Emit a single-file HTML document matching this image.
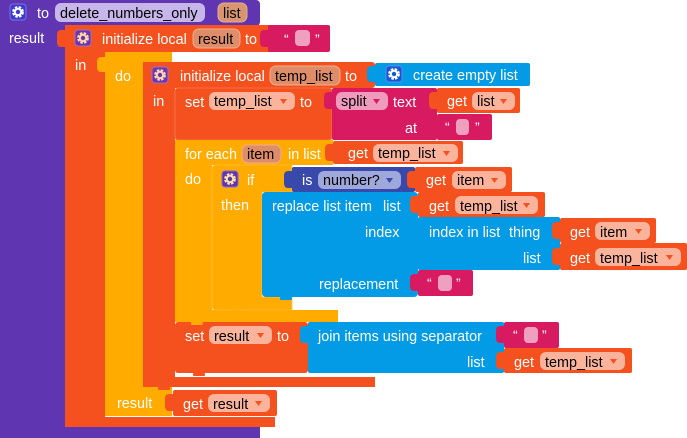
<!DOCTYPE html>
<html><head><meta charset="utf-8">
<style>
html,body{margin:0;padding:0;background:#fff;}
svg{display:block;}
text{font-family:"Liberation Sans",Arial,sans-serif;font-size:14.4px;}
.w{fill:#fff;}
.k{fill:#000;}
.q{fill:#fff;font-size:14px;}
</style></head>
<body>
<svg width="687" height="438" viewBox="0 0 687 438" xmlns="http://www.w3.org/2000/svg">
<defs>
  <g id="gear">
    <circle cx="0" cy="0" r="4.6" fill="none" stroke="currentColor" stroke-width="2.6" stroke-dasharray="2.4 1.3"/>
    <circle cx="0" cy="0" r="3.2" fill="none" stroke="currentColor" stroke-width="2"/>
  </g>
</defs>

<!-- PURPLE procedure -->
<g fill="#5f35b1">
  <rect x="0" y="0" width="260" height="26" rx="4"/>
  <rect x="0" y="0" width="65" height="438"/>
  <rect x="0" y="427" width="260" height="11"/>
</g>
<rect x="10" y="4" width="16" height="16" rx="3" fill="#3e3ad0" stroke="#7d72e6" stroke-width="1"/>
<g transform="translate(18,12)" color="#fff"><use href="#gear"/></g>
<text x="37" y="18" class="w">to</text>
<rect x="55" y="3" width="150" height="19" rx="6" fill="#c6b6ea"/>
<text x="60" y="18" class="k">delete_numbers_only</text>
<rect x="218" y="3" width="29" height="19" rx="6" fill="#d9956f" stroke="#e8b08f" stroke-width="1"/>
<text x="223" y="18" class="k">list</text>
<text x="9" y="43" class="w">result</text>

<!-- ORANGE outer init local result -->
<g fill="#f4511e">
  <rect x="65" y="25" width="210" height="27" rx="3"/>
  <rect x="65" y="25" width="40" height="402"/>
  <rect x="65" y="417" width="210" height="10"/>
  <path d="M65 30 L61 30 Q57 30 57 35 L57 42 Q57 47 61 47 L65 47 Z"/>
</g>
<rect x="75" y="30" width="16" height="16" rx="3" fill="#6e36a8" stroke="#a070c8" stroke-width="1"/>
<g transform="translate(83,38)" color="#ffd7b0"><use href="#gear"/></g>
<text x="102" y="44" class="w">initialize local</text>
<rect x="193" y="29" width="47" height="19" rx="6" fill="#df8d69" stroke="#eeae8e" stroke-width="1"/>
<text x="198" y="44" class="k">result</text>
<text x="245" y="44" class="w">to</text>
<!-- string -->
<g fill="#d81b60">
  <rect x="268" y="25" width="62" height="27" rx="2"/>
  <path d="M268 30 L264 30 Q260 30 260 35 L260 42 Q260 47 264 47 L268 47 Z"/>
</g>
<text x="284" y="44" class="q">“</text>
<rect x="295" y="30" width="15" height="16" rx="4" fill="#f0a0bf"/>
<text x="315" y="44" class="q">”</text>
<text x="75" y="70" class="w">in</text>

<!-- YELLOW do/result -->
<g fill="#ffab00">
  <rect x="105" y="52" width="67" height="10"/>
  <rect x="105" y="52" width="38" height="364"/>
  <rect x="105" y="387" width="67" height="29"/>
  <path d="M105 57 L101 57 Q97 57 97 62 L97 67 Q97 72 101 72 L105 72 Z"/>
</g>
<text x="115" y="81" class="w">do</text>
<text x="117" y="408" class="w">result</text>

<!-- INNER ORANGE init local temp_list -->
<g fill="#f4511e">
  <rect x="143" y="62" width="232" height="26" rx="3"/>
  <rect x="143" y="62" width="32" height="325"/>
  <rect x="143" y="377" width="232" height="10"/>
  <rect x="158" y="387" width="12" height="3" rx="1"/>
</g>
<rect x="152" y="67" width="16" height="16" rx="3" fill="#6e36a8" stroke="#a070c8" stroke-width="1"/>
<g transform="translate(160,75)" color="#ffd7b0"><use href="#gear"/></g>
<text x="180" y="81" class="w">initialize local</text>
<rect x="270" y="66" width="70" height="19" rx="6" fill="#df8d69" stroke="#eeae8e" stroke-width="1"/>
<text x="275" y="81" class="k">temp_list</text>
<text x="345" y="81" class="w">to</text>
<!-- create empty list -->
<g fill="#039be5">
  <rect x="375" y="63" width="155" height="23" rx="2"/>
  <path d="M375 66 L371 66 Q367 66 367 71 L367 77 Q367 82 371 82 L375 82 Z"/>
</g>
<rect x="386" y="66" width="16" height="16" rx="3" fill="#1857d4" stroke="#5a8ff0" stroke-width="1"/>
<g transform="translate(394,74)" color="#fff"><use href="#gear"/></g>
<text x="413" y="80" class="w">create empty list</text>
<text x="153" y="106" class="w">in</text>

<!-- set temp_list -->
<rect x="175" y="88" width="157" height="52" rx="3" fill="#f4511e" stroke="#f77a50" stroke-width="0.8"/>
<text x="185" y="107" class="w">set</text>
<rect x="209" y="92" width="86" height="18" rx="6" fill="#fbb49b"/>
<text x="214" y="106" class="k">temp_list</text>
<polygon points="280,99 287,99 283.5,104" fill="#f4511e"/>
<text x="300" y="107" class="w">to</text>
<!-- split -->
<g fill="#d81b60">
  <rect x="332" y="88" width="105" height="52" rx="2"/>
  <path d="M332 92 L328 92 Q324 92 324 97 L324 104 Q324 109 328 109 L332 109 Z"/>
</g>
<rect x="336" y="92" width="52" height="18" rx="6" fill="#f09bbd"/>
<text x="341" y="106" class="k">split</text>
<polygon points="373,99 380,99 376.5,104" fill="#d81b60"/>
<text x="393" y="107" class="w">text</text>
<text x="405" y="133" class="w">at</text>
<!-- get list -->
<g fill="#f4511e">
  <rect x="437" y="88" width="83" height="25" rx="2"/>
  <path d="M437 92 L433 92 Q429 92 429 97 L429 104 Q429 109 433 109 L437 109 Z"/>
</g>
<text x="447" y="106" class="w">get</text>
<rect x="472" y="92" width="43" height="18" rx="6" fill="#fbb49b"/>
<text x="477" y="106" class="k">list</text>
<polygon points="500,99 507,99 503.5,104" fill="#f4511e"/>
<!-- string at -->
<g fill="#d81b60">
  <rect x="437" y="114" width="55" height="26" rx="2"/>
  <path d="M437 118 L433 118 Q429 118 429 123 L429 130 Q429 135 433 135 L437 135 Z"/>
</g>
<text x="445" y="132" class="q">“</text>
<rect x="456" y="119" width="13" height="16" rx="4" fill="#f0a0bf"/>
<text x="475" y="132" class="q">”</text>

<!-- FOR EACH -->
<g fill="#ffab00">
  <rect x="175" y="140" width="158" height="25"/>
  <rect x="175" y="140" width="37" height="182"/>
  <rect x="175" y="310" width="163" height="12"/>
  <rect x="191" y="322" width="12" height="3" rx="1"/>
</g>
<text x="185" y="159" class="w">for each</text>
<rect x="242" y="145" width="39" height="18" rx="6" fill="#df8d69" stroke="#eeae8e" stroke-width="1"/>
<text x="247" y="159" class="k">item</text>
<text x="288" y="159" class="w">in list</text>
<g fill="#f4511e">
  <rect x="333" y="141" width="130" height="23" rx="2"/>
  <path d="M333 144 L329 144 Q325 144 325 149 L325 156 Q325 161 329 161 L333 161 Z"/>
</g>
<text x="348" y="158" class="w">get</text>
<rect x="373" y="144" width="85" height="18" rx="6" fill="#fbb49b"/>
<text x="378" y="158" class="k">temp_list</text>
<polygon points="443,151 450,151 446.5,156" fill="#f4511e"/>
<text x="185" y="184" class="w">do</text>

<!-- IF -->
<g fill="#ffab00" stroke="#ffc040" stroke-width="0.8">
  <path d="M216 165 H292 V192 H262 V297 H292 V310 H216 Q212 310 212 306 V169 Q212 165 216 165 Z"/>
</g>
<rect x="230" y="310" width="12" height="3" rx="1" fill="#ffab00"/>
<rect x="222" y="171" width="16" height="16" rx="3" fill="#5e35b1" stroke="#8a6ad0" stroke-width="1"/>
<g transform="translate(230,179)" color="#ffe3a8"><use href="#gear"/></g>
<text x="247" y="185" class="w">if</text>
<text x="221" y="210" class="w">then</text>
<!-- is number? -->
<g fill="#3949ab">
  <rect x="292" y="167" width="123" height="25" rx="2"/>
  <path d="M292 171 L288 171 Q284 171 284 176 L284 183 Q284 188 288 188 L292 188 Z"/>
</g>
<text x="302" y="185" class="w">is</text>
<rect x="318" y="171" width="83" height="18" rx="6" fill="#9fa8da"/>
<text x="323" y="185" class="k">number?</text>
<polygon points="386,178 393,178 389.5,183" fill="#3949ab"/>
<g fill="#f4511e">
  <rect x="415" y="167" width="97" height="25" rx="2"/>
  <path d="M415 171 L411 171 Q407 171 407 176 L407 183 Q407 188 411 188 L415 188 Z"/>
</g>
<text x="426" y="185" class="w">get</text>
<rect x="452" y="171" width="54" height="18" rx="6" fill="#fbb49b"/>
<text x="457" y="185" class="k">item</text>
<polygon points="491,178 498,178 494.5,183" fill="#f4511e"/>

<!-- REPLACE LIST ITEM -->
<g fill="#039be5">
  <rect x="262" y="192" width="156" height="105" rx="4"/>
  <rect x="280" y="297" width="12" height="3" rx="1"/>
</g>
<text x="272" y="211" class="w">replace list item</text>
<text x="383" y="211" class="w">list</text>
<text x="365" y="237" class="w">index</text>
<text x="319" y="289" class="w">replacement</text>
<g fill="#f4511e">
  <rect x="418" y="192" width="127" height="25" rx="2"/>
  <path d="M418 196 L414 196 Q410 196 410 201 L410 208 Q410 213 414 213 L418 213 Z"/>
</g>
<text x="429" y="211" class="w">get</text>
<rect x="455" y="196" width="83" height="18" rx="6" fill="#fbb49b"/>
<text x="460" y="211" class="k">temp_list</text>
<polygon points="523,203 530,203 526.5,208" fill="#f4511e"/>
<!-- index in list -->
<g fill="#039be5">
  <rect x="418" y="217" width="142" height="53" rx="2"/>
  <path d="M418 222 L414 222 Q410 222 410 227 L410 234 Q410 239 414 239 L418 239 Z"/>
</g>
<text x="429" y="237" class="w">index in list</text>
<text x="509" y="237" class="w">thing</text>
<text x="523" y="263" class="w">list</text>
<g fill="#f4511e">
  <rect x="560" y="218" width="96" height="25" rx="2"/>
  <path d="M560 222 L556 222 Q552 222 552 227 L552 234 Q552 239 556 239 L560 239 Z"/>
</g>
<text x="570" y="237" class="w">get</text>
<rect x="595" y="222" width="55" height="18" rx="6" fill="#fbb49b"/>
<text x="600" y="237" class="k">item</text>
<polygon points="635,229 642,229 638.5,234" fill="#f4511e"/>
<g fill="#f4511e">
  <rect x="560" y="243" width="127" height="27" rx="2"/>
  <path d="M560 248 L556 248 Q552 248 552 253 L552 260 Q552 265 556 265 L560 265 Z"/>
</g>
<text x="570" y="263" class="w">get</text>
<rect x="595" y="248" width="86" height="18" rx="6" fill="#fbb49b"/>
<text x="600" y="263" class="k">temp_list</text>
<polygon points="666,255 673,255 669.5,260" fill="#f4511e"/>
<!-- replacement string -->
<g fill="#d81b60">
  <rect x="418" y="270" width="55" height="26" rx="2"/>
  <path d="M418 274 L414 274 Q410 274 410 279 L410 286 Q410 291 414 291 L418 291 Z"/>
</g>
<text x="427" y="288" class="q">“</text>
<rect x="438" y="275" width="14" height="16" rx="4" fill="#f0a0bf"/>
<text x="456" y="288" class="q">”</text>

<!-- SET RESULT -->
<g fill="#f4511e">
  <rect x="175" y="322" width="133" height="51" rx="3"/>
  <rect x="193" y="373" width="12" height="3" rx="1"/>
</g>
<rect x="191" y="322" width="12" height="3" rx="1" fill="#ffab00"/>
<text x="185" y="341" class="w">set</text>
<rect x="209" y="326" width="63" height="18" rx="6" fill="#fbb49b"/>
<text x="214" y="341" class="k">result</text>
<polygon points="257,333 264,333 260.5,338" fill="#f4511e"/>
<text x="277" y="341" class="w">to</text>
<!-- join -->
<g fill="#039be5">
  <rect x="308" y="322" width="196" height="51" rx="2"/>
  <path d="M308 326 L304 326 Q300 326 300 331 L300 338 Q300 343 304 343 L308 343 Z"/>
</g>
<text x="318" y="341" class="w">join items using separator</text>
<text x="467" y="367" class="w">list</text>
<g fill="#d81b60">
  <rect x="504" y="322" width="55" height="26" rx="2"/>
  <path d="M504 326 L500 326 Q496 326 496 331 L496 338 Q496 343 500 343 L504 343 Z"/>
</g>
<text x="513" y="340" class="q">“</text>
<rect x="524" y="327" width="14" height="16" rx="4" fill="#f0a0bf"/>
<text x="542" y="340" class="q">”</text>
<g fill="#f4511e">
  <rect x="504" y="348" width="128" height="25" rx="2"/>
  <path d="M504 352 L500 352 Q496 352 496 357 L496 364 Q496 369 500 369 L504 369 Z"/>
</g>
<text x="514" y="367" class="w">get</text>
<rect x="540" y="352" width="85" height="18" rx="6" fill="#fbb49b"/>
<text x="545" y="367" class="k">temp_list</text>
<polygon points="610,359 617,359 613.5,364" fill="#f4511e"/>

<!-- GET RESULT -->
<g fill="#f4511e">
  <rect x="173" y="390" width="104" height="26" rx="2"/>
  <path d="M173 394 L169 394 Q165 394 165 399 L165 406 Q165 411 169 411 L173 411 Z"/>
</g>
<text x="183" y="409" class="w">get</text>
<rect x="208" y="394" width="62" height="18" rx="6" fill="#fbb49b"/>
<text x="213" y="409" class="k">result</text>
<polygon points="255,401 262,401 258.5,406" fill="#f4511e"/>
</svg>
</body></html>
